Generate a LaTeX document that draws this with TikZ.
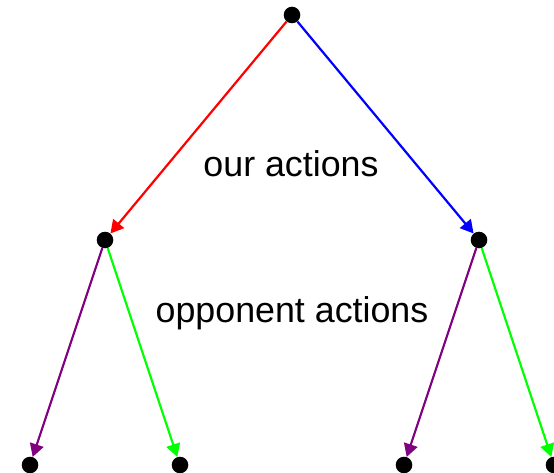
\documentclass[tikz,border=0pt]{standalone}
\usepackage{fontspec}
\setmainfont{Liberation Sans}
\usetikzlibrary{arrows.meta}
\definecolor{apurple}{RGB}{128,0,128}
\definecolor{agreen}{RGB}{0,255,0}
\begin{document}
\begin{tikzpicture}[x=1pt,y=1pt,
  dot/.style={circle,fill=black,inner sep=0pt,minimum size=16.6pt},
  arr/.style={line width=2.2pt,-{Triangle[length=13pt,width=14pt]}},
  lbl/.style={anchor=base,font=\fontsize{35.8}{43}\selectfont,inner sep=0pt}]
\useasboundingbox (0,0) rectangle (554,472);
\node[dot] (root) at (292,457) {};
\node[dot] (L) at (105,232) {};
\node[dot] (R) at (479,232) {};
\node[dot] (LL) at (30,7) {};
\node[dot] (LR) at (180,7) {};
\node[dot] (RL) at (404,7) {};
\node[dot] (RR) at (554,7) {};
\draw[arr,red] (root) -- (L);
\draw[arr,blue] (root) -- (R);
\draw[arr,apurple] (L) -- (LL);
\draw[arr,agreen] (L) -- (LR);
\draw[arr,apurple] (R) -- (RL);
\draw[arr,agreen] (R) -- (RR);
\node[lbl] (t1) at (291,295) {our actions};
\node[lbl] (t2) at (292,150) {opponent actions};
\end{tikzpicture}
\end{document}
